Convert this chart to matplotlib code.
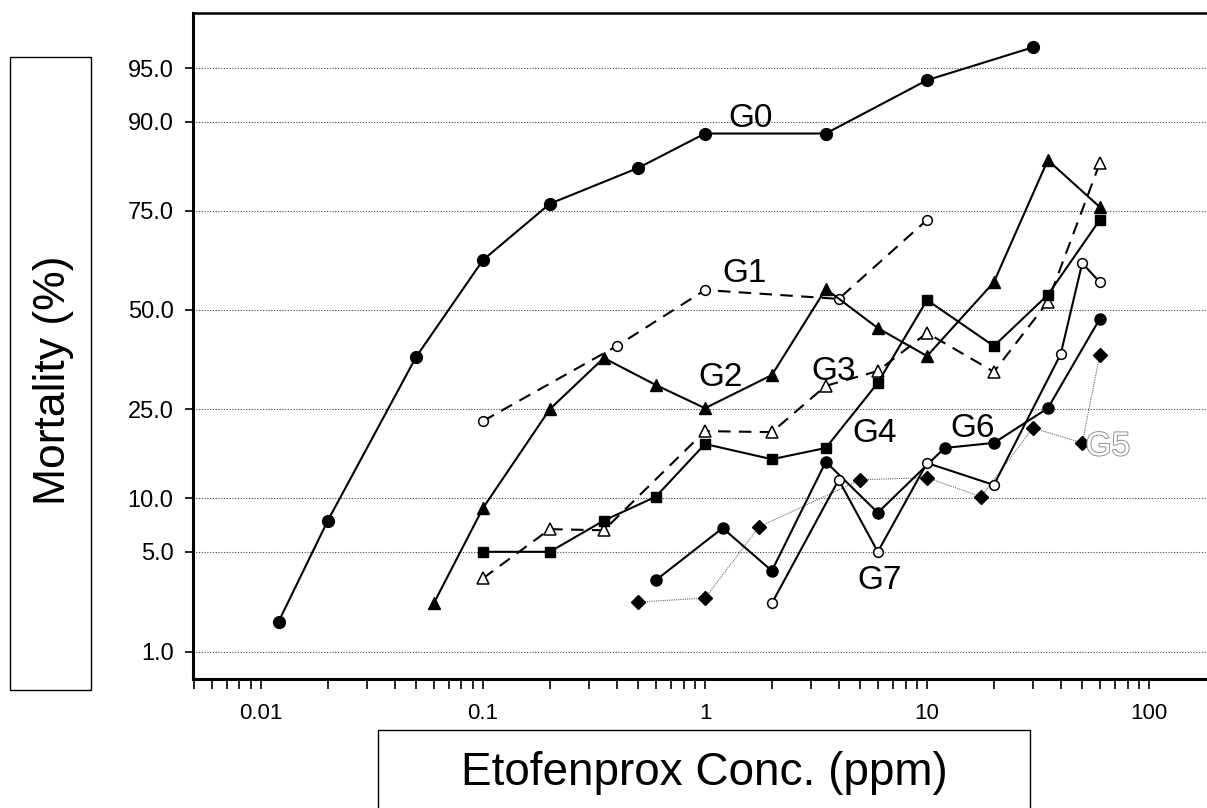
import matplotlib
matplotlib.use("Agg")
import matplotlib.pyplot as plt
import matplotlib.patheffects as pe
from matplotlib.patches import Rectangle
from matplotlib.ticker import FixedLocator, FixedFormatter, LogLocator, NullFormatter
import numpy as np
from statistics import NormalDist

# mortality (%) vs etofenprox conc (ppm)
g0_x = [0.012, 0.02, 0.05, 0.1, 0.2, 0.5, 1, 3.5, 10, 30]
g0_y = [1.7, 7.6, 37.5, 63.3, 76.5, 83.3, 88.5, 88.5, 94.1, 96.3]

g1_x = [0.1, 0.4, 1, 4, 10]
g1_y = [22.5, 40.3, 55.4, 53.0, 73.0]

g2_x = [0.06, 0.1, 0.2, 0.35, 0.6, 1, 2, 3.5, 6, 10, 20, 35, 60]
g2_y = [2.3, 8.9, 25.0, 37.2, 30.5, 25.2, 32.9, 55.7, 45.1, 37.7, 57.5, 84.6, 75.8]

g3_x = [0.1, 0.2, 0.35, 1, 2, 3.5, 6, 10, 20, 35, 60]
g3_y = [3.4, 6.8, 6.7, 20.5, 20.3, 30.3, 33.9, 43.8, 33.7, 52.2, 84.1]

g4_x = [0.1, 0.2, 0.35, 0.6, 1, 2, 3.5, 6, 10, 20, 35, 60]
g4_y = [5.0, 5.0, 7.6, 10.2, 18.1, 15.5, 17.4, 31.0, 52.7, 40.3, 54.1, 73.0]

g5_x = [0.5, 1, 1.75, 5, 10, 17.5, 30, 50, 60]
g5_y = [2.35, 2.5, 7.0, 12.4, 12.7, 10.2, 21.1, 18.3, 38.0]

g6_x = [0.6, 1.2, 2, 3.5, 6, 12, 20, 35, 60]
g6_y = [3.3, 6.9, 3.8, 15.1, 8.4, 17.4, 18.3, 25.2, 47.6]

g7_x = [2, 4, 6, 10, 20, 40, 50, 60]
g7_y = [2.3, 12.4, 5.0, 14.9, 11.7, 38.2, 62.5, 57.5]

y_ticks = [1, 5, 10, 25, 50, 75, 90, 95]
y_labels = ["1.0", "5.0", "10.0", "25.0", "50.0", "75.0", "90.0", "95.0"]
x_ticks = [0.01, 0.1, 1, 10, 100]
x_labels = ["0.01", "0.1", "1", "10", "100"]

# group label name, x, y
group_labels = [("G0", 1.6, 90.4), ("G1", 1.5, 59.9), ("G2", 1.17, 32.4),
                ("G3", 3.78, 33.7), ("G4", 5.83, 20.1), ("G6", 16, 21.1),
                ("G7", 6.14, 3.3)]
g5_label = ("G5", 65.3, 17.6)

_nd = NormalDist()
_ppf = np.vectorize(_nd.inv_cdf, otypes=[float])
_cdf = np.vectorize(_nd.cdf, otypes=[float])


def probit(p):
    p = np.clip(np.asarray(p, dtype=float) / 100.0, 1e-9, 1 - 1e-9)
    return _ppf(p)


def inv_probit(z):
    return _cdf(np.asarray(z, dtype=float)) * 100.0


plt.rcParams['font.family'] = ['Liberation Sans', 'DejaVu Sans']

W, H = 1207, 808
fig = plt.figure(figsize=(W / 100, H / 100), dpi=100)
ax = fig.add_axes([193 / W, (H - 679) / H, (W - 193) / W, 666 / H])

ax.set_xscale('log')
ax.set_yscale('function', functions=(probit, inv_probit))
ax.set_xlim(0.00494, 182.4)
ax.set_ylim(inv_probit(-2.510), inv_probit(2.020))

lw = 1.5
ax.plot(g0_x, g0_y, '-', color='black', lw=lw, marker='o', ms=8.5, zorder=3)
ax.plot(g1_x, g1_y, color='black', lw=lw, ls=(0, (6, 4)), marker='o', ms=7,
        mfc='white', mec='black', mew=1.1, zorder=3)
ax.plot(g2_x, g2_y, '-', color='black', lw=lw, marker='^', ms=9, zorder=3)
ax.plot(g3_x, g3_y, color='black', lw=lw, ls=(0, (6, 4)), marker='^', ms=8,
        mfc='white', mec='black', mew=1.1, zorder=3)
ax.plot(g4_x, g4_y, '-', color='black', lw=lw, marker='s', ms=7.5, zorder=3)
ax.plot(g5_x, g5_y, color='#666666', lw=0.8, ls=(0, (1, 1)), marker='D', ms=7,
        mfc='black', mec='black', zorder=3)
ax.plot(g6_x, g6_y, '-', color='black', lw=lw, marker='o', ms=8, zorder=3)
ax.plot(g7_x, g7_y, '-', color='black', lw=lw, marker='o', ms=7,
        mfc='white', mec='black', mew=1.1, zorder=3)

for name, x, y in group_labels:
    ax.text(x, y, name, fontsize=24, ha='center', va='center', zorder=4)
ax.text(g5_label[1], g5_label[2], g5_label[0], fontsize=24, ha='center',
        va='center', color='white', zorder=4,
        path_effects=[pe.withStroke(linewidth=1.3, foreground='#888888')])

# axes styling
ax.yaxis.set_major_locator(FixedLocator(y_ticks))
ax.yaxis.set_major_formatter(FixedFormatter(y_labels))
ax.yaxis.set_minor_locator(FixedLocator([]))
ax.xaxis.set_major_locator(FixedLocator(x_ticks))
ax.xaxis.set_major_formatter(FixedFormatter(x_labels))
ax.xaxis.set_minor_locator(LogLocator(base=10, subs=np.arange(2, 10), numticks=20))
ax.xaxis.set_minor_formatter(NullFormatter())

ax.yaxis.grid(True, linestyle=(0, (1, 1.5)), color='#444444', linewidth=0.8)
ax.set_axisbelow(True)

ax.tick_params(axis='y', which='major', direction='out', length=6, width=1.2,
               pad=8, labelsize=17)
ax.tick_params(axis='x', which='both', direction='out', length=7, width=1.2,
               pad=10, labelsize=16)

ax.spines['right'].set_visible(False)
ax.spines['left'].set_linewidth(2.2)
ax.spines['bottom'].set_linewidth(2.2)
ax.spines['top'].set_linewidth(1.8)

# label boxes
fig.patches.append(Rectangle((10 / W, (H - 690) / H), 81 / W, 633 / H,
                             transform=fig.transFigure, fill=False,
                             edgecolor='black', linewidth=1.0))
fig.patches.append(Rectangle((378 / W, -0.02), 652 / W, (H - 730) / H + 0.02,
                             transform=fig.transFigure, fill=False,
                             edgecolor='black', linewidth=1.0))
fig.text(53 / W, (H - 380) / H, "Mortality (%)", rotation=90, fontsize=32,
         ha='center', va='center')
fig.text(704 / W, (H - 773) / H, "Etofenprox Conc. (ppm)", fontsize=33,
         ha='center', va='center')

fig.savefig("out.png", dpi=100)
